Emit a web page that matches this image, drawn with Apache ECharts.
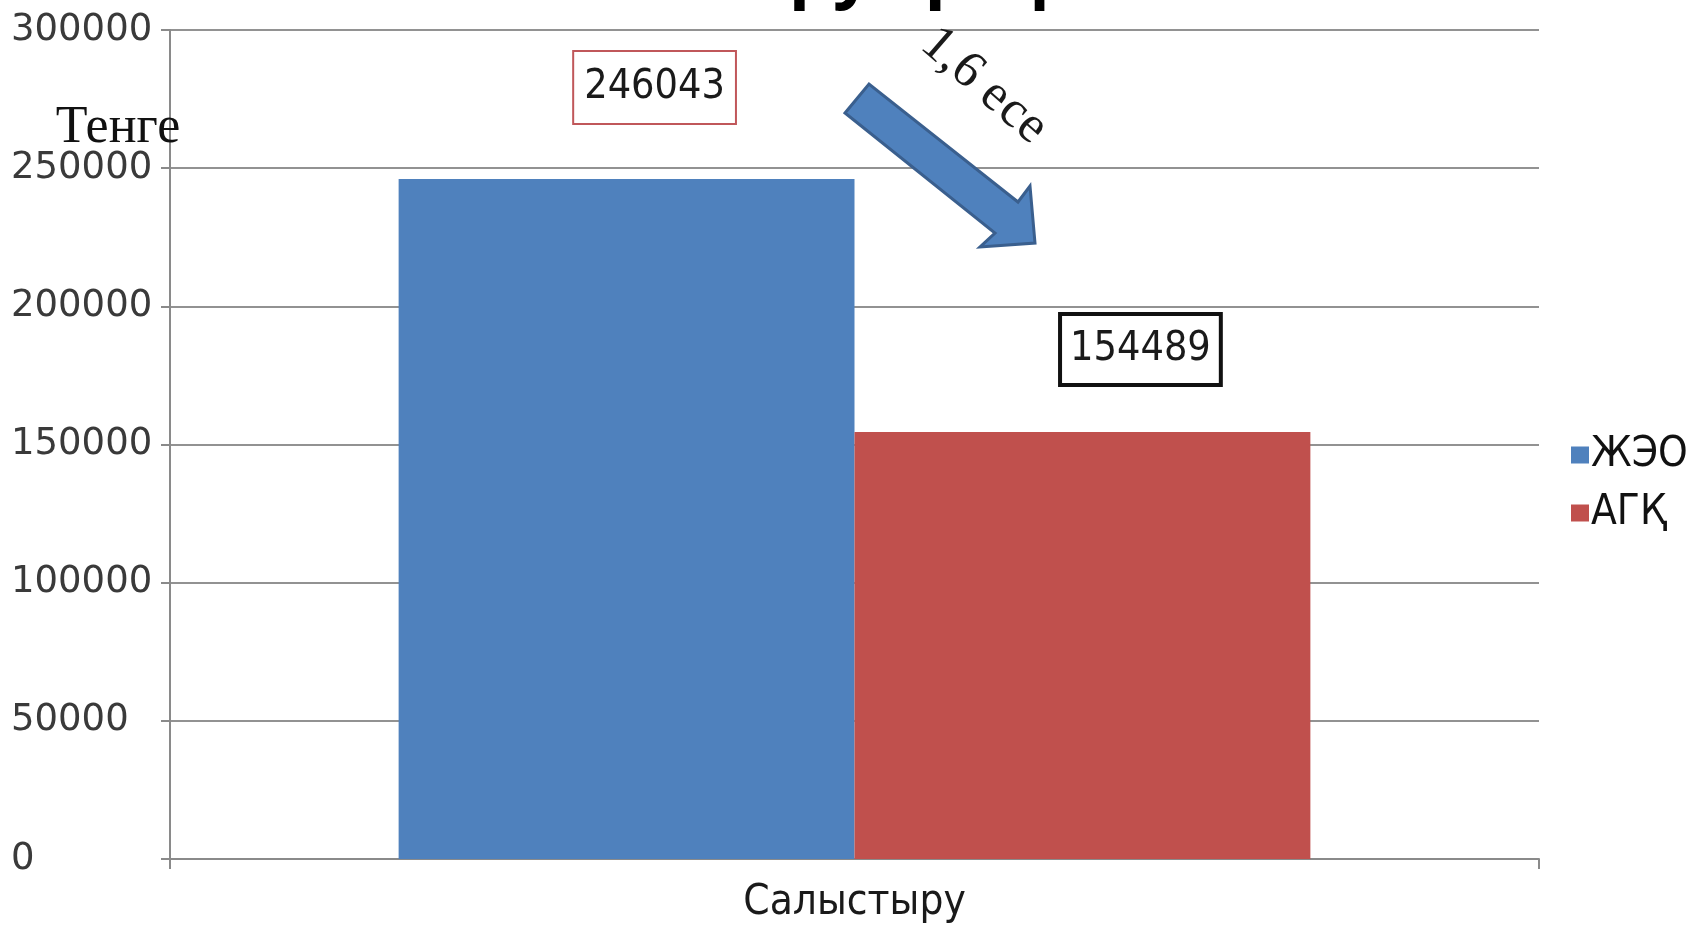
<!DOCTYPE html>
<html>
<head>
<meta charset="utf-8">
<title>Салыстыру</title>
<script src="https://cdn.jsdelivr.net/npm/echarts@6/dist/echarts.min.js"></script>
<style>
  html, body { margin: 0; padding: 0; background: #ffffff; }
  #chart { width: 1690px; height: 928px; }
</style>
</head>
<body>
<div id="chart"></div>
<script>
// Categories, series and axis ticks
const categories = ['Салыстыру'];
const seriesNames = ['ЖЭО', 'АГҚ'];
const valuesJEO = [246043];
const valuesAGK = [154489];
const yTicks = [0, 50000, 100000, 150000, 200000, 250000, 300000];
const unitLabel = 'Тенге';
const ratioLabel = '1,6 есе';
const titleText = 'Салыстыру графигі';

const narrow = "'Liberation Sans Narrow', 'DejaVu Sans Condensed', 'Open Sans', sans-serif";
const serif = "'Liberation Serif', 'DejaVu Serif', serif";

const chart = echarts.init(document.getElementById('chart'), null, { renderer: 'canvas' });

const option = {
  backgroundColor: '#ffffff',
  animation: false,
  color: ['#4f81bd', '#c0504d'],
  grid: { left: 170, right: 151, top: 30, bottom: 69, containLabel: false },
  legend: {
    orient: 'vertical',
    left: 1566,
    top: 428,
    icon: 'rect',
    itemWidth: 18,
    itemHeight: 17,
    itemGap: 14,
    data: seriesNames,
    textStyle: { fontFamily: narrow, fontSize: 42, lineHeight: 44, color: '#111', padding: [0, 0, 0, -3] }
  },
  xAxis: {
    type: 'category',
    data: categories,
    boundaryGap: true,
    axisLine: { show: true, lineStyle: { color: '#8a8a8a', width: 2 } },
    axisTick: { show: true, length: 10, lineStyle: { color: '#8a8a8a', width: 2 } },
    axisLabel: { margin: 22, fontFamily: narrow, fontSize: 42, lineHeight: 44, color: '#1a1a1a' }
  },
  yAxis: {
    type: 'value',
    min: yTicks[0],
    max: yTicks[yTicks.length - 1],
    interval: yTicks[1] - yTicks[0],
    axisLine: { show: true, lineStyle: { color: '#8a8a8a', width: 2 } },
    axisTick: { show: true, length: 9, lineStyle: { color: '#8a8a8a', width: 2 } },
    splitLine: { show: true, lineStyle: { color: '#929292', width: 2 } },
    axisLabel: {
      margin: 159,
      align: 'left',
      fontFamily: "'DejaVu Sans', Verdana, sans-serif",
      fontSize: 37,
      color: '#3a3a3a',
      formatter: (v) => String(v)
    }
  },
  series: [
    {
      name: seriesNames[0],
      type: 'bar',
      data: valuesJEO,
      barGap: '0%',
      barCategoryGap: '33.4%',
      itemStyle: { color: '#4f81bd' },
      label: {
        show: true,
        position: 'top',
        distance: 0,
        offset: [28, -56],
        fontFamily: narrow,
        fontSize: 41,
        lineHeight: 41,
        color: '#1a1a1a',
        backgroundColor: '#ffffff',
        borderColor: '#c0575a',
        borderWidth: 2,
        padding: [15, 10, 15, 10]
      }
    },
    {
      name: seriesNames[1],
      type: 'bar',
      data: valuesAGK,
      barGap: '0%',
      barCategoryGap: '33.4%',
      itemStyle: { color: '#c0504d' },
      label: {
        show: true,
        position: 'top',
        distance: 0,
        offset: [58, -49],
        fontFamily: narrow,
        fontSize: 41,
        lineHeight: 41,
        color: '#1a1a1a',
        backgroundColor: '#ffffff',
        borderColor: '#111111',
        borderWidth: 4,
        padding: [13, 8, 13, 8]
      }
    }
  ],
  graphic: [
    // Heading, cut by the top edge of the canvas
    {
      type: 'text',
      x: 463,
      y: -61,
      style: {
        text: titleText,
        font: "bold 70px 'Open Sans', 'DejaVu Sans', sans-serif",
        fill: '#000000',
        align: 'left',
        verticalAlign: 'top'
      },
      z: 10
    },
    // Unit caption next to the value axis
    {
      type: 'text',
      x: 118,
      y: 128,
      style: {
        text: unitLabel,
        font: "52px " + serif,
        fill: '#111111',
        align: 'center',
        verticalAlign: 'middle'
      },
      z: 10
    },
    // Block arrow pointing from the first bar towards the second
    {
      type: 'polygon',
      shape: {
        points: [
          [845, 113], [869, 84], [1018, 202], [1030, 186],
          [1035, 243], [980, 247], [995, 233]
        ]
      },
      style: { fill: '#4f81bd', stroke: '#3a5f8e', lineWidth: 3, lineJoin: 'miter' },
      z: 10
    },
    // Ratio caption along the arrow
    {
      type: 'text',
      x: 984,
      y: 86,
      rotation: -41 * Math.PI / 180,
      style: {
        text: ratioLabel,
        font: "52px " + serif,
        fill: '#1a1a1a',
        align: 'center',
        verticalAlign: 'middle'
      },
      z: 10
    }
  ]
};

chart.setOption(option);
</script>
</body>
</html>
